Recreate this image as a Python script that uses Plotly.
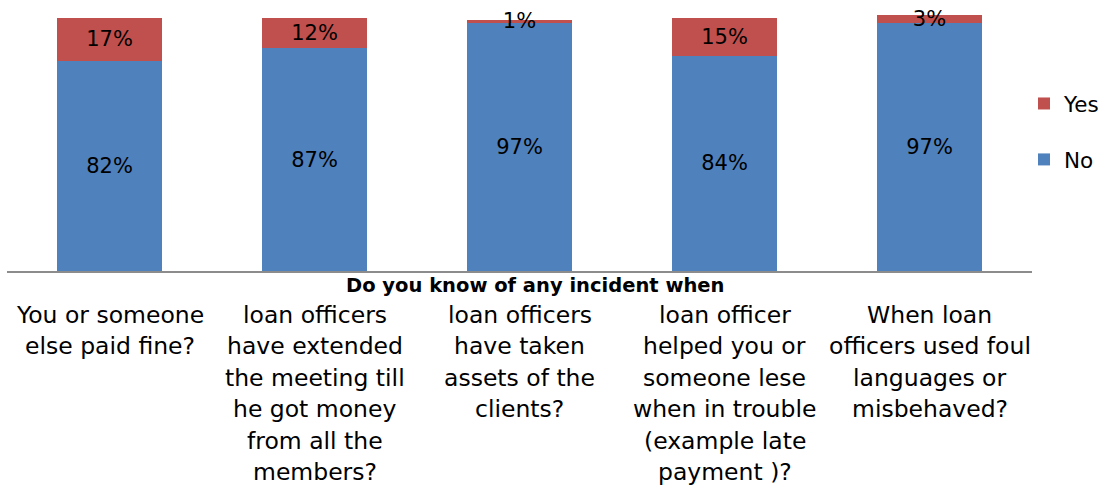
import plotly.graph_objects as go

# Survey questions (line breaks mark how each label wraps)
categories = [
    "You or someone<br>else paid fine?",
    "loan officers<br>have extended<br>the meeting till<br>he got money<br>from all the<br>members?",
    "loan officers<br>have taken<br>assets of the<br>clients?",
    "loan officer<br>helped you or<br>someone lese<br>when in trouble<br>(example late<br>payment )?",
    "When loan<br>officers used foul<br>languages or<br>misbehaved?",
]
no_values = [82, 87, 97, 84, 97]
yes_values = [17, 12, 1, 15, 3]
axis_title = "Do you know of any incident when"

BLUE = "#4F81BD"
RED = "#C0504D"
FONT = "DejaVu Sans"

x_pos = list(range(len(categories)))

fig = go.Figure()
fig.add_trace(go.Bar(
    x=x_pos, y=no_values, name="No", marker=dict(color=BLUE, line=dict(width=0)),
    texttemplate="%{y}%", textposition="inside", insidetextanchor="middle",
    constraintext="none", textangle=0, cliponaxis=False,
    textfont=dict(family=FONT, size=21, color="black"),
    legendgroup="no", legendrank=2,
))
fig.add_trace(go.Bar(
    x=x_pos, y=yes_values, name="Yes", marker=dict(color=RED, line=dict(width=0)),
    texttemplate="%{y}%", textposition="inside", insidetextanchor="middle",
    constraintext="none", textangle=0, cliponaxis=False,
    textfont=dict(family=FONT, size=21, color="black"),
    legendgroup="yes", legendrank=1,
))

# Wrapped category labels, one annotation per line for even line pitch
LINE_PITCH = 31.4
FIRST_OFFSET = 44.0
for i, label in enumerate(categories):
    for j, line in enumerate(label.split("<br>")):
        fig.add_annotation(
            x=i, y=0, xref="x", yref="y", text=line, showarrow=False,
            xanchor="center", yanchor="middle",
            yshift=-(FIRST_OFFSET + LINE_PITCH * j),
            font=dict(family=FONT, size=23.5, color="black"),
        )

# Axis title under the bars
fig.add_annotation(
    x=0.515, y=0, xref="paper", yref="y", text="<b>" + axis_title + "</b>",
    showarrow=False, xanchor="center", yanchor="middle", yshift=-14,
    font=dict(family=FONT, size=19.5, color="black"),
)

fig.update_layout(
    width=1106, height=487,
    margin=dict(l=7, r=74, t=15, b=216, pad=0, autoexpand=False),
    barmode="stack", bargap=0.488,
    plot_bgcolor="white", paper_bgcolor="white",
    showlegend=True,
    legend=dict(
        xref="container", yref="container",
        x=1024 / 1106, xanchor="left", y=1 - 83 / 487, yanchor="top",
        traceorder="grouped", tracegroupgap=25,
        font=dict(family=FONT, size=21.5, color="black"),
        itemwidth=30, bgcolor="rgba(0,0,0,0)",
    ),
    xaxis=dict(
        range=[-0.5, len(categories) - 0.5], showticklabels=False, ticks="",
        showgrid=False, zeroline=False, showline=True,
        linecolor="#8C8C8C", linewidth=1.5, fixedrange=True,
    ),
    yaxis=dict(
        range=[0, 100], visible=False, showgrid=False, zeroline=False, fixedrange=True,
    ),
)

fig.write_html("out.html")
